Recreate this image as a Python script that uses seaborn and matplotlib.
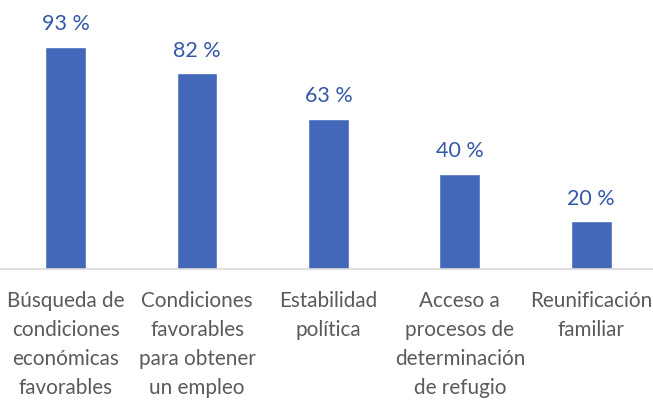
import matplotlib
matplotlib.use("Agg")
import matplotlib.pyplot as plt
import seaborn as sns
import pandas as pd

# categories and percentages
categorias = [
    "Búsqueda de\ncondiciones\neconómicas\nfavorables",
    "Condiciones\nfavorables\npara obtener\nun empleo",
    "Estabilidad\npolítica",
    "Acceso a\nprocesos de\ndeterminación\nde refugio",
    "Reunificación\nfamiliar",
]
porcentajes = [93, 82, 63, 40, 20]

df = pd.DataFrame({"motivo": categorias, "pct": porcentajes})

sns.set_style("white")
plt.rcParams["font.family"] = ["Lato", "DejaVu Sans"]

fig = plt.figure(figsize=(6.53, 4.09), dpi=100)
ax = fig.add_axes([0.0, 0.342, 1.006, 0.584])

sns.barplot(data=df, x="motivo", y="pct", color="#4368BA", width=0.31,
            saturation=1, ax=ax)

ax.bar_label(ax.containers[0], labels=[f"{v} %" for v in porcentajes],
             padding=9, color="#3457A8", fontsize=15.5)

ax.set_xlim(-0.5, 4.5)
ax.set_ylim(0, 100)
ax.set_xlabel("")
ax.set_ylabel("")
ax.set_yticks([])
for s in ["top", "right", "left"]:
    ax.spines[s].set_visible(False)
ax.spines["bottom"].set_color("#D9D9D9")
ax.spines["bottom"].set_linewidth(1.2)
ax.tick_params(axis="x", length=0, pad=16, labelsize=14.9, labelcolor="#5A5A5A")
for t in ax.get_xticklabels():
    t.set_linespacing(1.55)

fig.savefig("out.png", dpi=100)
